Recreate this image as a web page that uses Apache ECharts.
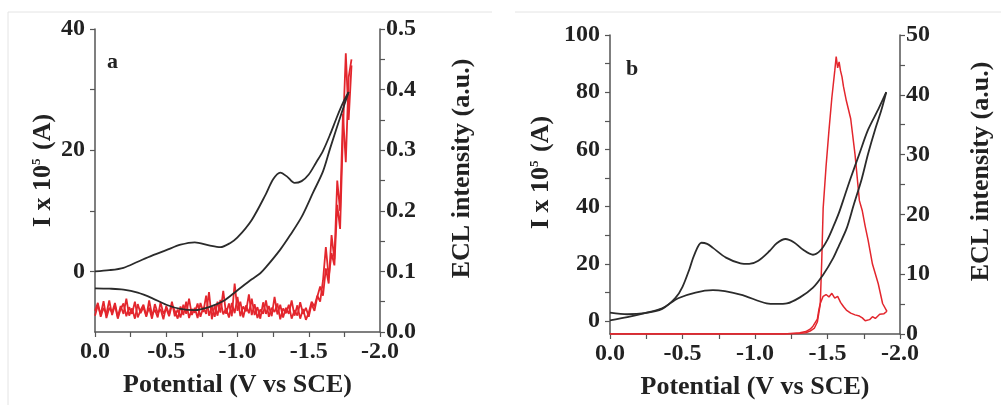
<!DOCTYPE html>
<html>
<head>
<meta charset="utf-8">
<script src="https://cdn.jsdelivr.net/npm/echarts@6/dist/echarts.min.js"></script>
<style>
  html, body { margin: 0; padding: 0; background: #fff; }
  #main { width: 1001px; height: 405px; }
</style>
</head>
<body>
<div id="main"></div>
<script>
// ---- panel a: CV (black) ----
var cvA_fwd_E = [0, -0.1, -0.2, -0.3, -0.4, -0.5, -0.6, -0.7, -0.8, -0.88, -0.95, -1.0, -1.1, -1.2, -1.25, -1.3, -1.35, -1.4, -1.45, -1.5, -1.55, -1.6, -1.65, -1.7, -1.74, -1.78];
var cvA_fwd_I = [0, 0.2, 0.6, 1.6, 2.6, 3.5, 4.4, 4.8, 4.3, 4.0, 4.7, 5.6, 8.5, 12.8, 15.2, 16.3, 15.6, 14.6, 14.9, 16.0, 17.9, 19.9, 22.6, 25.6, 27.8, 29.6];
var cvA_rev_E = [-1.78, -1.73, -1.65, -1.6, -1.53, -1.45, -1.37, -1.3, -1.2, -1.16, -1.1, -1.0, -0.9, -0.8, -0.7, -0.6, -0.5, -0.4, -0.3, -0.2, -0.1, 0];
var cvA_rev_I = [29.6, 26.1, 20.3, 16.5, 13.0, 9.0, 6.0, 3.6, 0.7, -0.3, -1.3, -3.1, -4.9, -5.9, -6.4, -6.2, -5.5, -4.4, -3.5, -3.0, -2.85, -2.8];

// ---- panel a: ECL (red), forward and reverse on the same potential grid ----
var potA = [0, -0.02, -0.04, -0.06, -0.08, -0.1, -0.12, -0.14, -0.16, -0.18,
  -0.2, -0.22, -0.24, -0.26, -0.28, -0.3, -0.32, -0.34, -0.36, -0.38,
  -0.4, -0.42, -0.44, -0.46, -0.48, -0.5, -0.52, -0.54, -0.56, -0.58,
  -0.6, -0.62, -0.64, -0.66, -0.68, -0.7, -0.72, -0.74, -0.76, -0.78,
  -0.8, -0.82, -0.84, -0.86, -0.88, -0.9, -0.92, -0.94, -0.96, -0.98,
  -1.0, -1.02, -1.04, -1.06, -1.08, -1.1, -1.12, -1.14, -1.16, -1.18,
  -1.2, -1.22, -1.24, -1.26, -1.28, -1.3, -1.32, -1.34, -1.36, -1.38,
  -1.4, -1.42, -1.44, -1.46, -1.48, -1.5, -1.52, -1.54, -1.56, -1.58,
  -1.6, -1.62, -1.64, -1.66, -1.68, -1.7, -1.72, -1.74, -1.76, -1.78, -1.8];
var eclA_fwd = [0.035, 0.048, 0.025, 0.040, 0.030, 0.052, 0.028, 0.044, 0.022, 0.038,
  0.047, 0.026, 0.041, 0.030, 0.050, 0.024, 0.036, 0.045, 0.027, 0.040,
  0.022, 0.046, 0.031, 0.038, 0.021, 0.043, 0.029, 0.050, 0.026, 0.037,
  0.024, 0.045, 0.030, 0.055, 0.028, 0.040, 0.023, 0.048, 0.033, 0.060,
  0.027, 0.042, 0.025, 0.050, 0.032, 0.068, 0.030, 0.047, 0.026, 0.080,
  0.035, 0.050, 0.024, 0.044, 0.031, 0.055, 0.028, 0.041, 0.022, 0.049,
  0.030, 0.043, 0.026, 0.058, 0.029, 0.045, 0.024, 0.040, 0.030, 0.052,
  0.027, 0.044, 0.022, 0.038, 0.020, 0.032, 0.050, 0.042, 0.060, 0.050,
  0.085, 0.140, 0.090, 0.130, 0.110, 0.210, 0.170, 0.330, 0.460, 0.350, 0.440];
var eclA_rev = [0.027, 0.044, 0.029, 0.051, 0.023, 0.040, 0.032, 0.048, 0.025, 0.043,
  0.030, 0.055, 0.027, 0.039, 0.022, 0.046, 0.031, 0.041, 0.025, 0.052,
  0.028, 0.037, 0.024, 0.049, 0.030, 0.039, 0.026, 0.045, 0.035, 0.022,
  0.042, 0.028, 0.050, 0.023, 0.038, 0.032, 0.047, 0.025, 0.041, 0.030,
  0.066, 0.021, 0.044, 0.027, 0.053, 0.029, 0.039, 0.024, 0.048, 0.031,
  0.058, 0.026, 0.042, 0.034, 0.062, 0.028, 0.046, 0.023, 0.037, 0.030,
  0.052, 0.025, 0.040, 0.033, 0.047, 0.021, 0.039, 0.031, 0.045, 0.022,
  0.036, 0.027, 0.049, 0.030, 0.040, 0.025, 0.046, 0.035, 0.058, 0.075,
  0.060, 0.105, 0.080, 0.160, 0.120, 0.250, 0.200, 0.360, 0.280, 0.420, 0.450];

// ---- panel b: CV (black) ----
var cvB_fwd_E = [0, -0.12, -0.24, -0.36, -0.45, -0.5, -0.55, -0.58, -0.63, -0.67, -0.71, -0.8, -0.9, -0.96, -1.02, -1.1, -1.15, -1.21, -1.27, -1.33, -1.4, -1.45, -1.5, -1.54, -1.58, -1.62, -1.66, -1.72, -1.78, -1.85, -1.905];
var cvB_fwd_I = [3.0, 2.4, 2.8, 4.3, 8.0, 12.0, 18.5, 23.0, 27.4, 27.0, 25.6, 22.2, 20.2, 20.0, 21.0, 24.5, 27.2, 28.7, 27.5, 25.0, 23.2, 24.6, 28.5, 33.0, 38.0, 44.0, 50.0, 58.5, 66.9, 74.0, 80.0];
var cvB_rev_E = [-1.905, -1.87, -1.828, -1.78, -1.736, -1.68, -1.632, -1.58, -1.54, -1.47, -1.4, -1.31, -1.22, -1.15, -1.08, -0.9, -0.71, -0.59, -0.47, -0.36, -0.24, -0.12, 0];
var cvB_rev_I = [80.0, 73.5, 66.9, 58.5, 49.7, 40.5, 32.4, 26.5, 22.1, 16.2, 11.7, 8.3, 6.2, 6.0, 6.2, 9.3, 10.8, 10.0, 8.0, 4.5, 2.8, 1.4, 0.3];

// ---- panel b: ECL (red) ----
var eclB_fwd_E = [0, -0.3, -0.6, -0.9, -1.2, -1.3, -1.35, -1.38, -1.41, -1.43, -1.45, -1.46, -1.47, -1.49, -1.51, -1.53, -1.55, -1.56, -1.57, -1.58, -1.59, -1.6, -1.61, -1.63, -1.66, -1.69, -1.72, -1.74, -1.76, -1.78, -1.81, -1.85, -1.88, -1.91];
var eclB_fwd = [0, 0, 0, 0, 0, 0.1, 0.2, 0.5, 1.0, 2.0, 5.0, 12.0, 21.0, 28.0, 34.0, 39.5, 44.0, 46.4, 44.5, 45.5, 44.0, 43.0, 41.4, 39.0, 36.0, 30.0, 22.3, 20.6, 18.0, 15.7, 11.7, 8.4, 5.1, 3.8];
var eclB_rev_E = [-1.91, -1.89, -1.86, -1.83, -1.81, -1.79, -1.76, -1.74, -1.72, -1.69, -1.66, -1.63, -1.61, -1.59, -1.57, -1.55, -1.53, -1.51, -1.49, -1.47, -1.45, -1.44, -1.43, -1.4, -1.38, -1.35, -1.31, -1.2, -0.9, -0.6, -0.3, 0];
var eclB_rev = [3.8, 3.4, 3.3, 2.6, 2.9, 2.4, 2.2, 2.7, 3.0, 3.2, 3.5, 4.0, 4.6, 5.3, 6.3, 6.0, 6.8, 6.2, 6.6, 6.3, 5.1, 4.0, 2.5, 1.3, 0.8, 0.4, 0.2, 0, 0, 0, 0, 0];

function zip(xs, ys) {
  var out = [];
  for (var i = 0; i < xs.length; i++) out.push([xs[i], ys[i]]);
  return out;
}

var myChart = echarts.init(document.getElementById('main'));

var FONT = '"Liberation Serif", "Times New Roman", serif';
var AXIS_COLOR = '#555';
var TEXT_COLOR = '#222';
var BLACK = '#2b2b2b';
var RED = '#e3262d';

function xAxisFor(gridIndex) {
  return {
    type: 'value', gridIndex: gridIndex, min: -2, max: 0, inverse: true,
    name: 'Potential (V vs SCE)', nameLocation: 'middle', nameGap: 40,
    nameTextStyle: { fontFamily: FONT, fontWeight: 'bold', fontSize: 26, color: TEXT_COLOR },
    axisLine: { onZero: false, lineStyle: { color: AXIS_COLOR, width: 1.5 } },
    axisTick: { length: 5, lineStyle: { color: AXIS_COLOR, width: 1.2 },
      customValues: [0, -0.25, -0.5, -0.75, -1, -1.25, -1.5, -1.75, -2] },
    axisLabel: { fontFamily: FONT, fontWeight: 'bold', fontSize: 24, color: TEXT_COLOR, margin: 8,
      customValues: [0, -0.5, -1, -1.5, -2],
      formatter: function (v) { return v.toFixed(1); } },
    splitLine: { show: false }
  };
}

// shift moves the rotated name up along the axis (via left padding)
function yAxisFor(gridIndex, pos, min, max, ticks, labels, name, gap, shift, digits) {
  return {
    type: 'value', gridIndex: gridIndex, position: pos, min: min, max: max,
    name: name, nameLocation: 'middle', nameGap: gap,
    nameTextStyle: { fontFamily: FONT, fontWeight: 'bold', fontSize: 26, color: TEXT_COLOR,
      padding: [0, 0, 0, shift],
      rich: { sup: { fontFamily: FONT, fontWeight: 'bold', fontSize: 13, color: TEXT_COLOR, verticalAlign: 'top', padding: [0, 2, 12, 0] } } },
    axisLine: { show: true, onZero: false, lineStyle: { color: AXIS_COLOR, width: 1.5 } },
    axisTick: { show: true, length: 5, lineStyle: { color: AXIS_COLOR, width: 1.2 }, customValues: ticks },
    axisLabel: { fontFamily: FONT, fontWeight: 'bold', fontSize: 24, color: TEXT_COLOR, margin: pos === 'left' ? 10 : 6,
      customValues: labels,
      formatter: function (v) { return v.toFixed(digits); } },
    splitLine: { show: false }
  };
}

function line(xi, yi, data, color, width, smooth) {
  return {
    type: 'line', xAxisIndex: xi, yAxisIndex: yi, data: data, showSymbol: false,
    smooth: smooth, lineStyle: { color: color, width: width }, z: color === RED ? 2 : 3
  };
}

var option = {
  animation: false,
  backgroundColor: '#fff',
  grid: [
    { left: 95, right: 621, top: 29, bottom: 73 },
    { left: 610, right: 101, top: 35, bottom: 67 }
  ],
  xAxis: [xAxisFor(0), xAxisFor(1)],
  yAxis: [
    yAxisFor(0, 'left', -10, 40, [0, 10, 20, 30, 40], [0, 20, 40], 'I x 10{sup|5} (A)', 39, 20, 0),
    yAxisFor(0, 'right', 0, 0.5, [0, 0.05, 0.1, 0.15, 0.2, 0.25, 0.3, 0.35, 0.4, 0.45, 0.5], [0, 0.1, 0.2, 0.3, 0.4, 0.5], 'ECL intensity (a.u.)', 69, 24, 1),
    yAxisFor(1, 'left', -4.5, 100, [0, 10, 20, 30, 40, 50, 60, 70, 80, 90, 100], [0, 20, 40, 60, 80, 100], 'I x 10{sup|5} (A)', 56, 24, 0),
    yAxisFor(1, 'right', 0, 50, [0, 5, 10, 15, 20, 25, 30, 35, 40, 45, 50], [0, 10, 20, 30, 40, 50], 'ECL intensity (a.u.)', 68, 26, 0)
  ],
  graphic: [
    { type: 'line', shape: { x1: 8, y1: 12, x2: 492, y2: 12 }, style: { stroke: '#e4e4e4', lineWidth: 1 } },
    { type: 'line', shape: { x1: 8, y1: 12, x2: 8, y2: 405 }, style: { stroke: '#e4e4e4', lineWidth: 1 } },
    { type: 'line', shape: { x1: 515, y1: 12, x2: 1001, y2: 12 }, style: { stroke: '#e4e4e4', lineWidth: 1 } },
    { type: 'text', left: 107, top: 51, style: { text: 'a', fontFamily: FONT, fontWeight: 'bold', fontSize: 22, fill: TEXT_COLOR } },
    { type: 'text', left: 626, top: 58, style: { text: 'b', fontFamily: FONT, fontWeight: 'bold', fontSize: 22, fill: TEXT_COLOR } }
  ],
  series: [
    line(0, 1, zip(potA, eclA_fwd), RED, 1.8, false),
    line(0, 1, zip(potA, eclA_rev), RED, 1.8, false),
    line(0, 0, zip(cvA_fwd_E, cvA_fwd_I), BLACK, 1.8, 0.3),
    line(0, 0, zip(cvA_rev_E, cvA_rev_I), BLACK, 1.8, 0.3),
    line(1, 3, zip(eclB_fwd_E, eclB_fwd), RED, 1.5, false),
    line(1, 3, zip(eclB_rev_E, eclB_rev), RED, 1.5, false),
    line(1, 2, zip(cvB_fwd_E, cvB_fwd_I), BLACK, 1.8, 0.3),
    line(1, 2, zip(cvB_rev_E, cvB_rev_I), BLACK, 1.8, 0.3)
  ]
};

myChart.setOption(option);
</script>
</body>
</html>
